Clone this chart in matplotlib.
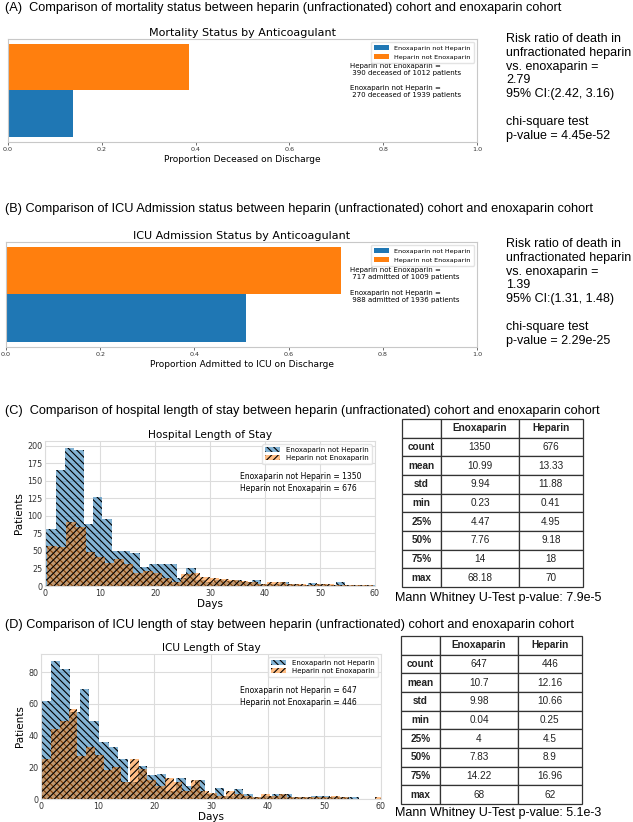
import numpy as np
import matplotlib
matplotlib.use('Agg')
import matplotlib.pyplot as plt

# ---- data ----
groups = ['Enoxaparin not Heparin', 'Heparin not Enoxaparin']
deceased = [270, 390]
deceased_total = [1939, 1012]
icu_admitted = [988, 717]
icu_total = [1936, 1009]

mort_stats = ['Risk ratio of death in', 'unfractionated heparin', 'vs. enoxaparin =', '2.79',
              '95% CI:(2.42, 3.16)', '', 'chi-square test', 'p-value = 4.45e-52']
icu_stats = ['Risk ratio of death in', 'unfractionated heparin', 'vs. enoxaparin =', '1.39',
             '95% CI:(1.31, 1.48)', '', 'chi-square test', 'p-value = 2.29e-25']

# histogram counts, 40 bins between min and max of each cohort
hosp_enox_counts = [82, 166, 197, 194, 88, 127, 95, 50, 50, 47,
                    27, 31, 31, 31, 11, 25, 9, 6, 9, 7,
                    9, 5, 9, 3, 3, 5, 3, 2, 4, 3,
                    2, 6, 1, 2, 1, 1, 0, 1, 0, 1]
hosp_hep_counts = [57, 56, 91, 84, 49, 41, 33, 39, 31, 19,
                   21, 19, 12, 6, 17, 19, 13, 11, 10, 9,
                   7, 6, 3, 6, 5, 3, 3, 2, 3, 3,
                   2, 1, 1, 1, 0, 1, 0, 0, 0, 1]
icu_enox_counts = [62, 87, 82, 55, 69, 49, 36, 33, 25, 11,
                   21, 15, 16, 5, 13, 8, 12, 3, 7, 2,
                   6, 3, 1, 2, 3, 3, 1, 1, 2, 2,
                   1, 1, 1, 0, 0, 0, 0, 1, 0, 1]
icu_hep_counts = [25, 44, 49, 57, 27, 33, 28, 18, 20, 11,
                  25, 19, 12, 8, 13, 11, 5, 12, 5, 4,
                  2, 5, 3, 2, 1, 3, 2, 3, 1, 1,
                  1, 1, 1, 2, 1, 0, 0, 0, 1, 1]

stat_names = ['count', 'mean', 'std', 'min', '25%', '50%', '75%', 'max']
hosp_enox_stats = ['1350', '10.99', '9.94', '0.23', '4.47', '7.76', '14', '68.18']
hosp_hep_stats = ['676', '13.33', '11.88', '0.41', '4.95', '9.18', '18', '70']
icu_enox_stats = ['647', '10.7', '9.98', '0.04', '4', '7.83', '14.22', '68']
icu_hep_stats = ['446', '12.16', '10.66', '0.25', '4.5', '8.9', '16.96', '62']

W, H = 633, 822
fig = plt.figure(figsize=(W / 100, H / 100), dpi=100)
plt.rcParams['hatch.color'] = 'black'
plt.rcParams['hatch.linewidth'] = 0.8

HEAD = ['Liberation Sans', 'DejaVu Sans']
BLUE = '#1f77b4'
ORANGE = '#ff7f0e'


def box(l, t, r, b):
    return [l / W, 1 - b / H, (r - l) / W, (b - t) / H]


def ftext(x, y, s, **kw):
    fig.text(x / W, 1 - y / H, s, **kw)


def bar_panel(rect, counts, totals, title, xlabel, verb, tx, ty1, ty2):
    ax = fig.add_axes(box(*rect))
    props = [c / t for c, t in zip(counts, totals)]
    ax.barh(0, props[0], height=1, color=BLUE, label=groups[0])
    ax.barh(1, props[1], height=1, color=ORANGE, label=groups[1])
    ax.set_xlim(0, 1)
    ax.set_yticks([])
    ax.set_xticks([0, 0.2, 0.4, 0.6, 0.8, 1.0])
    ax.tick_params(axis='x', labelsize=4.6, length=2, width=0.5, pad=1.5, colors='#333333')
    for s in ax.spines.values():
        s.set_color('#c8c8c8')
        s.set_linewidth(0.8)
    ax.set_title(title, fontsize=8, pad=2)
    ax.set_xlabel(xlabel, fontsize=6.5, labelpad=2)
    ax.legend(loc='upper right', fontsize=4.6, frameon=True, edgecolor='#dddddd',
              handlelength=2.4, borderpad=0.5)
    ax.text(tx, ty1, '%s =\n %d %s of %d patients' % (groups[1], counts[1], verb, totals[1]),
            transform=ax.transAxes, fontsize=5, va='top')
    ax.text(tx, ty2, '%s =\n %d %s of %d patients' % (groups[0], counts[0], verb, totals[0]),
            transform=ax.transAxes, fontsize=5, va='top')
    return ax


def hist_panel(rect, enox, hep, enox_stats, hep_stats, title, ticks, tx, ty):
    ax = fig.add_axes(box(*rect))
    e_edges = np.linspace(float(enox_stats[3]), float(enox_stats[7]), len(enox) + 1)
    h_edges = np.linspace(float(hep_stats[3]), float(hep_stats[7]), len(hep) + 1)
    ax.bar(e_edges[:-1], enox, width=np.diff(e_edges), align='edge', color=BLUE,
           alpha=0.55, hatch='\\\\\\\\\\', linewidth=0, label=groups[0])
    ax.bar(h_edges[:-1], hep, width=np.diff(h_edges), align='edge', color=ORANGE,
           alpha=0.5, hatch='/////', linewidth=0, label=groups[1])
    ax.set_xlim(0, 60)
    ax.set_yticks(ticks)
    ax.set_xticks(range(0, 61, 10))
    ax.set_axisbelow(True)
    ax.grid(True, color='#dcdcdc', linewidth=0.8)
    for s in ax.spines.values():
        s.set_color('#dcdcdc')
    ax.tick_params(labelsize=5.8, length=0, pad=2, colors='#333333')
    ax.set_title(title, fontsize=7.6, pad=2)
    ax.set_xlabel('Days', fontsize=7.5, labelpad=1)
    ax.set_ylabel('Patients', fontsize=7.5, labelpad=2)
    ax.legend(loc='upper right', fontsize=5, frameon=True, edgecolor='#dddddd',
              handlelength=2.2, borderpad=0.4, labelspacing=0.3)
    ax.text(tx, ty, '%s = %s\n%s = %s' % (groups[0], enox_stats[0], groups[1], hep_stats[0]),
            fontsize=5.5, va='top', linespacing=1.4)
    return ax


def stat_table(rect, enox_stats, hep_stats):
    ax = fig.add_axes(box(*rect))
    ax.axis('off')
    rows = [['', 'Enoxaparin', 'Heparin']]
    rows += [[n, e, h] for n, e, h in zip(stat_names, enox_stats, hep_stats)]
    tb = ax.table(cellText=rows, cellLoc='center', bbox=[0, 0, 1, 1],
                  colWidths=[0.217, 0.428, 0.355])
    tb.auto_set_font_size(False)
    for (r, c), cell in tb.get_celld().items():
        cell.set_edgecolor('#333333')
        cell.set_linewidth(0.9)
        t = cell.get_text()
        t.set_fontsize(7.2)
        t.set_family(HEAD)
        t.set_color('#222222')
        if r == 0 or c == 0:
            t.set_fontweight('bold')
    return ax


# ---- (A) mortality ----
ftext(5, 8, '(A)  Comparison of mortality status between heparin (unfractionated) cohort and enoxaparin cohort',
      fontsize=9.2, family=HEAD, va='center')
bar_panel((8, 39, 477, 142), deceased, deceased_total, 'Mortality Status by Anticoagulant',
          'Proportion Deceased on Discharge', 'deceased', 0.73, 0.77, 0.55)
ftext(506, 33, '\n'.join(mort_stats), fontsize=9, family=HEAD, va='top', linespacing=1.2)

# ---- (B) ICU admission ----
ftext(5, 209, '(B) Comparison of ICU Admission status between heparin (unfractionated) cohort and enoxaparin cohort',
      fontsize=9.2, family=HEAD, va='center')
bar_panel((6, 242, 477, 347), icu_admitted, icu_total, 'ICU Admission Status by Anticoagulant',
          'Proportion Admitted to ICU on Discharge', 'admitted', 0.73, 0.76, 0.54)
ftext(506, 238, '\n'.join(icu_stats), fontsize=9, family=HEAD, va='top', linespacing=1.2)

# ---- (C) hospital LOS ----
ftext(5, 411, '(C)  Comparison of hospital length of stay between heparin (unfractionated) cohort and enoxaparin cohort',
      fontsize=9.2, family=HEAD, va='center')
hist_panel((45, 441, 375, 586), hosp_enox_counts, hosp_hep_counts, hosp_enox_stats, hosp_hep_stats,
           'Hospital Length of Stay', range(0, 201, 25), 35.5, 162)
stat_table((402, 419, 583, 587), hosp_enox_stats, hosp_hep_stats)
ftext(395, 598, 'Mann Whitney U-Test p-value: 7.9e-5', fontsize=9, family=HEAD, va='center')

# ---- (D) ICU LOS ----
ftext(5, 625, '(D) Comparison of ICU length of stay between heparin (unfractionated) cohort and enoxaparin cohort',
      fontsize=9.2, family=HEAD, va='center')
hist_panel((41, 654, 381, 799), icu_enox_counts, icu_hep_counts, icu_enox_stats, icu_hep_stats,
           'ICU Length of Stay', range(0, 81, 20), 35.2, 71)
stat_table((401, 636, 582, 804), icu_enox_stats, icu_hep_stats)
ftext(395, 813, 'Mann Whitney U-Test p-value: 5.1e-3', fontsize=9, family=HEAD, va='center')

fig.savefig('out.png', dpi=100)
